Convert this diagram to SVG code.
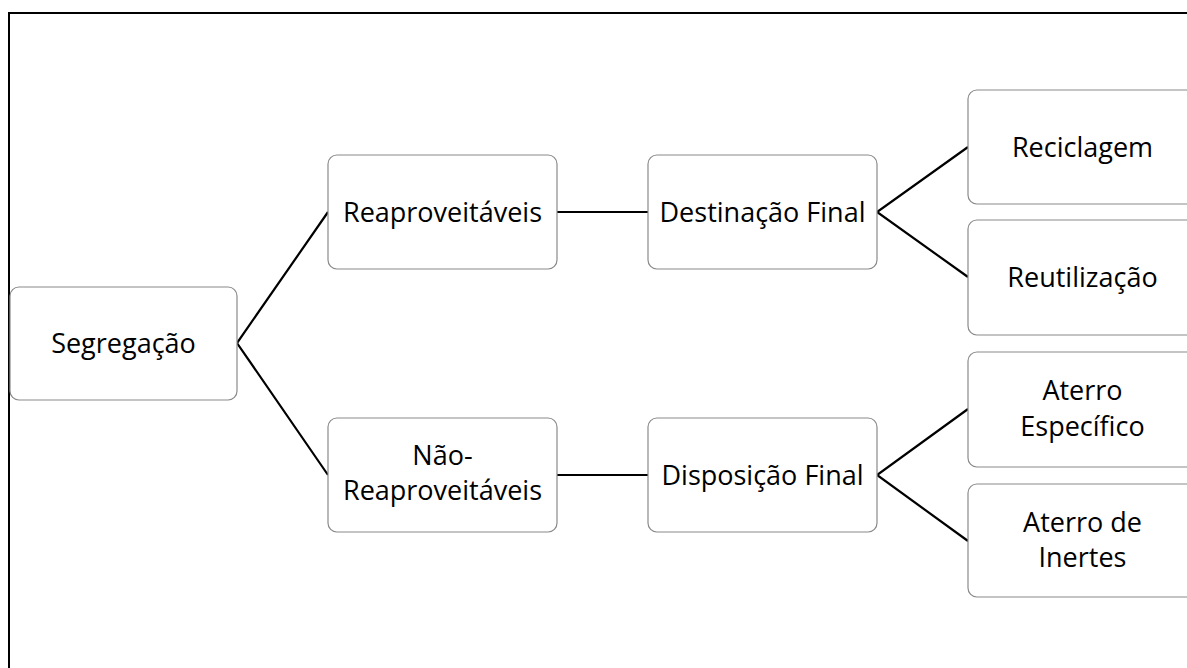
<svg xmlns="http://www.w3.org/2000/svg" width="1187" height="668" viewBox="0 0 1187 668">
<style>
.frame{fill:none;stroke:#000;stroke-width:2}
.box{fill:#fff;stroke:#8a8a8a;stroke-width:1.2}
.lbl{font-family:"Open Sans","Liberation Sans",sans-serif;font-size:27px;fill:#000;text-anchor:middle}
.con{fill:none;stroke:#000;stroke-width:2.2}
</style>
<rect width="1187" height="668" fill="#fff"/>
<rect class="frame" x="9" y="13" width="1200" height="700"/>
<g id="connectors">
<polyline class="con" points="328,212 237,343 328,475"/>
<line class="con" x1="557" y1="212" x2="648" y2="212"/>
<line class="con" x1="557" y1="475" x2="648" y2="475"/>
<polyline class="con" points="968,147 877,212 968,277"/>
<polyline class="con" points="968,409 877,475 968,541"/>
</g>
<g id="segregacao"><rect class="box" x="10" y="287" width="227" height="113" rx="9"/><text class="lbl" x="123.5" y="353">Segregação</text></g>
<g id="reaproveitaveis"><rect class="box" x="328" y="155" width="229" height="114" rx="9"/><text class="lbl" x="442.5" y="222">Reaproveitáveis</text></g>
<g id="nao-reaproveitaveis"><rect class="box" x="328" y="418" width="229" height="114" rx="9"/><text class="lbl" x="442.5" y="465">Não-</text><text class="lbl" x="442.5" y="500">Reaproveitáveis</text></g>
<g id="destinacao"><rect class="box" x="648" y="155" width="229" height="114" rx="9"/><text class="lbl" x="762.5" y="222">Destinação Final</text></g>
<g id="disposicao"><rect class="box" x="648" y="418" width="229" height="114" rx="9"/><text class="lbl" x="762.5" y="485">Disposição Final</text></g>
<g id="reciclagem"><rect class="box" x="968" y="90" width="229" height="114" rx="9"/><text class="lbl" x="1082.5" y="157">Reciclagem</text></g>
<g id="reutilizacao"><rect class="box" x="968" y="220" width="229" height="115" rx="9"/><text class="lbl" x="1082.5" y="287">Reutilização</text></g>
<g id="aterro-especifico"><rect class="box" x="968" y="352" width="229" height="115" rx="9"/><text class="lbl" x="1082.5" y="400">Aterro</text><text class="lbl" x="1082.5" y="436">Específico</text></g>
<g id="aterro-inertes"><rect class="box" x="968" y="484" width="229" height="113" rx="9"/><text class="lbl" x="1082.5" y="532">Aterro de</text><text class="lbl" x="1082.5" y="567">Inertes</text></g>
</svg>
